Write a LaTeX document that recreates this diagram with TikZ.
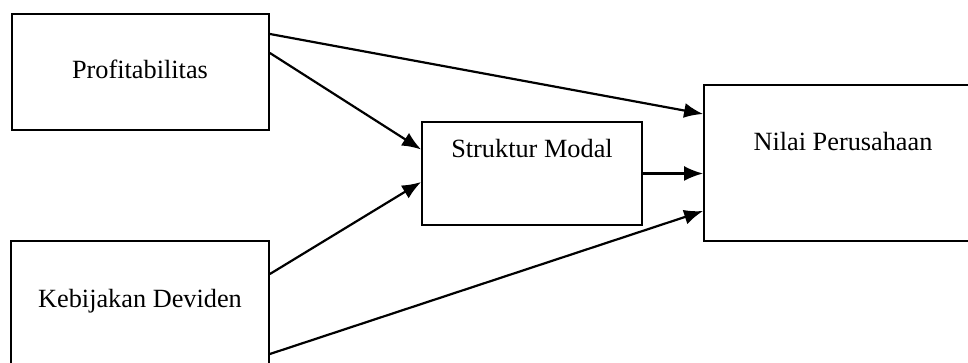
\documentclass[tikz,border=0pt]{standalone}
\usepackage{fontspec}
\setmainfont{Liberation Serif}
\usetikzlibrary{arrows.meta}
\begin{document}
\begin{tikzpicture}[x=1pt,y=1pt,
  varbox/.style={draw=black,line width=1.8pt,fill=white,inner sep=0pt,minimum width=#1},
  lbl/.style={anchor=base,inner sep=0pt,font=\fontsize{26.3}{30}\selectfont},
  link/.style={line width=2.2pt,-{Latex[length=19pt,width=15pt]}}]
  \clip (0,0) rectangle (968,363);
  \fill[white] (0,0) rectangle (968,363);

  % boxes (two of them run past the picture edge)
  \node[varbox=257, minimum height=116] (profit) at (140.5,291) {};
  \node[varbox=258, minimum height=140] (dev)    at (140,52) {};
  \node[varbox=220, minimum height=103] (modal)  at (532,189.5) {};
  \node[varbox=286, minimum height=156] (nilai)  at (847,200) {};

  % labels
  \node[lbl] (tprofit) at (140,284) {Profitabilitas};
  \node[lbl] (tdev)    at (140,55)  {Kebijakan Deviden};
  \node[lbl] (tmodal)  at (532,205) {Struktur Modal};
  \node[lbl] (tnilai)  at (843,212) {Nilai Perusahaan};

  % paths
  \draw[link] ([yshift=38]profit.east) -- ([yshift=49]nilai.west);
  \draw[link] ([yshift=19]profit.east) -- ([yshift=24]modal.west);
  \draw[link] ([yshift=37]dev.east) -- ([yshift=-8.5]modal.west);
  \draw[link] ([yshift=-43]dev.east) -- ([yshift=-48]nilai.west);
  \draw[link] (modal.east) -- (modal.east -| nilai.west);
\end{tikzpicture}
\end{document}
